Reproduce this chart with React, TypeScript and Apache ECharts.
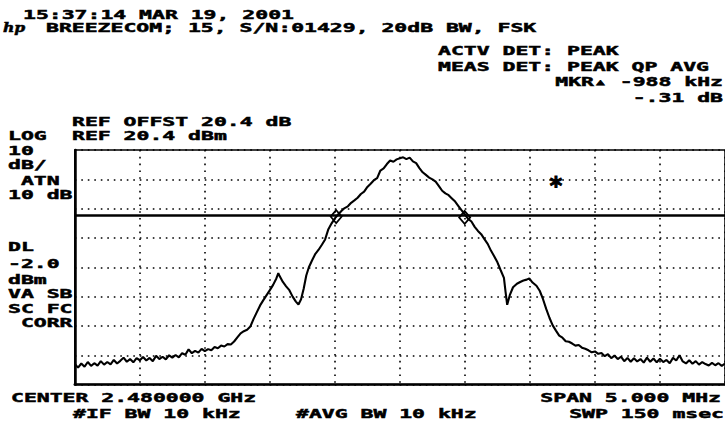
import React, { useEffect, useRef } from "react";
import * as echarts from "echarts";

// Frequency offset from center (MHz), center 2.480000 GHz, span 5 MHz
const freqOffsetMHz = [
  -2.5, -2.475, -2.45, -2.425, -2.4, -2.375, -2.35, -2.325, -2.3, -2.275, -2.25, -2.225, -2.2, -2.175, -2.15, -2.125,
  -2.1, -2.075, -2.05, -2.025, -2.0, -1.975, -1.95, -1.925, -1.9, -1.875, -1.85, -1.825, -1.8, -1.775, -1.75, -1.725,
  -1.7, -1.675, -1.65, -1.625, -1.6, -1.575, -1.55, -1.525, -1.5, -1.475, -1.45, -1.425, -1.4, -1.375, -1.35, -1.325,
  -1.3, -1.275, -1.25, -1.225, -1.2, -1.175, -1.15, -1.125, -1.1, -1.075, -1.05, -1.025, -1.0, -0.975, -0.95, -0.935,
  -0.925, -0.9, -0.875, -0.85, -0.825, -0.8, -0.78, -0.76, -0.74, -0.72, -0.7, -0.675, -0.65, -0.625, -0.6, -0.575,
  -0.55, -0.525, -0.5, -0.475, -0.45, -0.425, -0.4, -0.375, -0.35, -0.325, -0.3, -0.275, -0.25, -0.225, -0.2, -0.175,
  -0.15, -0.125, -0.1, -0.075, -0.05, -0.025, 0.0, 0.025, 0.05, 0.075, 0.1, 0.125, 0.15, 0.175, 0.2, 0.225,
  0.25, 0.275, 0.3, 0.325, 0.35, 0.375, 0.4, 0.425, 0.45, 0.475, 0.5, 0.525, 0.55, 0.575, 0.6, 0.625,
  0.65, 0.675, 0.7, 0.725, 0.75, 0.775, 0.8, 0.812, 0.825, 0.845, 0.87, 0.9, 0.925, 0.95, 0.975, 0.995,
  1.02, 1.05, 1.075, 1.1, 1.125, 1.15, 1.175, 1.2, 1.225, 1.25, 1.275, 1.3, 1.325, 1.35, 1.375, 1.4,
  1.425, 1.45, 1.475, 1.5, 1.525, 1.55, 1.575, 1.6, 1.625, 1.65, 1.675, 1.7, 1.725, 1.75, 1.775, 1.8,
  1.825, 1.85, 1.875, 1.9, 1.925, 1.95, 1.975, 2.0, 2.025, 2.05, 2.075, 2.1, 2.125, 2.15, 2.175, 2.2,
  2.225, 2.25, 2.275, 2.3, 2.325, 2.35, 2.375, 2.4, 2.425, 2.45, 2.475, 2.5,
];

// Trace level (dBm)
const levelDbm = [
  -52.6, -53.8, -52.4, -53.5, -51.9, -53.2, -52.3, -53.1, -51.6, -52.8, -51.9, -52.7, -51.2, -52.4, -51.5, -50.4,
  -51.8, -50.9, -52.0, -50.6, -51.3, -50.2, -51.4, -50.5, -51.6, -49.8, -50.9, -50.1, -51.0, -49.6, -50.4, -49.5,
  -50.3, -48.9, -49.4, -47.6, -48.9, -48.1, -48.7, -47.4, -48.2, -47.5, -47.9, -46.8, -47.2, -46.3, -46.6, -45.8,
  -45.9, -44.9, -43.5, -42.1, -41.4, -40.9, -39.8, -37.2, -34.9, -32.6, -30.8, -29.1, -27.4, -25.6, -23.4, -21.6,
  -22.6, -24.6, -26.1, -27.4, -29.6, -31.3, -32.3, -30.5, -26.9, -22.4, -19.6, -17.2, -15.0, -13.6, -11.9, -10.1,
  -6.6, -4.6, -2.9, -1.6, -0.4, 0.6, 1.2, 2.4, 3.2, 4.1, 5.4, 6.2, 7.8, 8.9, 10.1, 10.8,
  13.4, 14.1, 15.6, 16.8, 16.4, 17.2, 17.6, 17.9, 17.3, 17.8, 16.5, 15.9, 14.2, 12.8, 11.9, 11.0,
  10.4, 9.6, 8.1, 6.5, 5.6, 5.0, 3.9, 2.8, 1.3, -0.2, -1.6, -3.1, -4.0, -5.8, -7.2, -8.3,
  -10.0, -11.6, -13.9, -15.8, -17.9, -20.6, -23.2, -27.8, -32.4, -29.1, -26.4, -25.2, -24.6, -24.1, -23.8, -23.4,
  -24.8, -25.9, -27.6, -30.4, -33.8, -36.8, -39.4, -41.2, -42.9, -43.6, -44.8, -45.0, -45.6, -46.3, -46.1, -47.0,
  -47.4, -47.9, -48.6, -48.3, -49.1, -48.8, -49.9, -49.2, -50.6, -49.7, -50.9, -50.1, -51.6, -50.5, -51.8, -50.6,
  -51.7, -50.9, -52.1, -50.4, -51.8, -50.7, -52.0, -50.8, -51.9, -51.2, -52.3, -50.5, -51.4, -49.6, -51.7, -52.4,
  -51.3, -52.5, -51.6, -52.8, -51.9, -52.6, -53.1, -52.2, -53.0, -52.3, -53.2, -52.4,
];

const refLevelDbm = 20.4;
const dbPerDiv = 10;
const verticalDivs = 8;
const spanMHz = 5;
const freqPerDivMHz = 0.5;
const displayLineDbm = -2.0;

const markerFreqMHz = [-0.49, 0.498];
const markerLevelDbm = [-2.3, -2.6];

const headerLines = ["15:37:14 MAR 19, 2001", "BREEZECOM; 15, S/N:01429, 20dB BW, FSK"];
const rightInfoLines = ["ACTV DET: PEAK", "MEAS DET: PEAK QP AVG"];
const markerReadout = ["MKR\u25B4 -988 kHz", "-.31 dB"];
const refLines = ["REF OFFST 20.4 dB", "REF 20.4 dBm"];
const leftColumn = ["LOG", "10", "dB/", " ATN", "10 dB", "DL", "-2.0", "dBm", "VA SB", "SC FC", " CORR"];
const footerLeft = ["CENTER 2.480000 GHz", "#IF BW 10 kHz"];
const footerMid = ["#AVG BW 10 kHz"];
const footerRight = ["SPAN 5.000 MHz", "SWP 150 msec"];

const FONT = 'bold 13px "DejaVu Sans Mono"';
const SX = 1.65;

function txt(text: string, x: number, y: number, align: string = "left") {
  return {
    type: "text",
    x,
    y,
    scaleX: SX,
    silent: true,
    style: {
      text,
      font: FONT,
      fill: "#000",
      stroke: "#000",
      lineWidth: 0.5,
      align,
      verticalAlign: "middle",
    },
  };
}

export default function App() {
  const ref = useRef<HTMLDivElement>(null);

  useEffect(() => {
    if (!ref.current) return;
    const chart = echarts.init(ref.current, undefined, { renderer: "svg" });
    const data = freqOffsetMHz.map((f, i) => [f, levelDbm[i]]);
    const bottom = refLevelDbm - dbPerDiv * verticalDivs;

    const leftYs = [135.5, 150.5, 164.5, 180.5, 194.5, 247, 264, 279.5, 294, 308.5, 323];

    const graphics: any[] = [
      txt(headerLines[0], 23, 14.5),
      txt(headerLines[1], 46, 27.5),
      {
        type: "text",
        x: 3,
        y: 27.5,
        scaleX: 1.2,
        silent: true,
        style: {
          text: "hp",
          font: 'italic bold 13px "DejaVu Serif"',
          fill: "#000",
          stroke: "#000",
          lineWidth: 0.5,
          align: "left",
          verticalAlign: "middle",
        },
      },
      txt(rightInfoLines[0], 438, 51),
      txt(rightInfoLines[1], 438, 66.5),
      txt(markerReadout[0], 723, 82, "right"),
      txt(markerReadout[1], 723, 98, "right"),
      txt(refLines[0], 72, 122),
      txt(refLines[1], 72, 136),
      ...leftColumn.map((t, i) => txt(t, 8, leftYs[i])),
      txt(footerLeft[0], 11, 397.5),
      txt(footerLeft[1], 73, 413.5),
      txt(footerMid[0], 296, 413.5),
      txt(footerRight[0], 721, 397.5, "right"),
      txt(footerRight[1], 724, 413.5, "right"),
      {
        type: "text",
        x: 556,
        y: 186,
        silent: true,
        style: {
          text: "*",
          font: 'bold 24px "DejaVu Sans Mono"',
          fill: "#000",
          stroke: "#000",
          lineWidth: 1,
          align: "center",
          verticalAlign: "middle",
        },
      },
    ];

    chart.setOption({
      animation: false,
      backgroundColor: "#fff",
      grid: {
        left: 74.8,
        top: 150,
        width: 652,
        height: 234.6,
        show: true,
        borderColor: "#000",
        borderWidth: 1.5,
        backgroundColor: "transparent",
      },
      xAxis: {
        type: "value",
        min: -spanMHz / 2,
        max: spanMHz / 2,
        interval: freqPerDivMHz,
        axisLabel: { show: false },
        axisTick: { show: false },
        axisLine: { show: true, onZero: false, lineStyle: { color: "#000", width: 2.5 } },
        splitLine: { show: true, lineStyle: { color: "#000", width: 1.6, type: [1.6, 5.2] } },
      },
      yAxis: {
        type: "value",
        min: bottom,
        max: refLevelDbm,
        interval: dbPerDiv,
        axisLabel: { show: false },
        axisTick: { show: false },
        axisLine: { show: true, onZero: false, lineStyle: { color: "#000", width: 2.5 } },
        splitLine: { show: true, lineStyle: { color: "#000", width: 1.6, type: [1.6, 4.9] } },
      },
      graphic: graphics,
      series: [
        {
          type: "line",
          data,
          showSymbol: false,
          symbol: "none",
          lineStyle: { color: "#000", width: 2.1 },
          z: 5,
          markLine: {
            silent: true,
            symbol: ["none", "none"],
            label: { show: false },
            lineStyle: { color: "#000", width: 2.6, type: "solid" },
            data: [{ yAxis: displayLineDbm }],
          },
          markPoint: {
            silent: true,
            symbol: "diamond",
            symbolSize: [11, 13],
            label: { show: false },
            itemStyle: { color: "rgba(0,0,0,0)", borderColor: "#000", borderWidth: 1.8 },
            data: markerFreqMHz.map((f, i) => ({ coord: [f, markerLevelDbm[i]] })),
          },
        },
      ],
    });
    return () => chart.dispose();
  }, []);

  return (
    <div
      ref={ref}
      style={{ position: "absolute", left: 0, top: 0, width: 725, height: 424, background: "#fff" }}
    />
  );
}
